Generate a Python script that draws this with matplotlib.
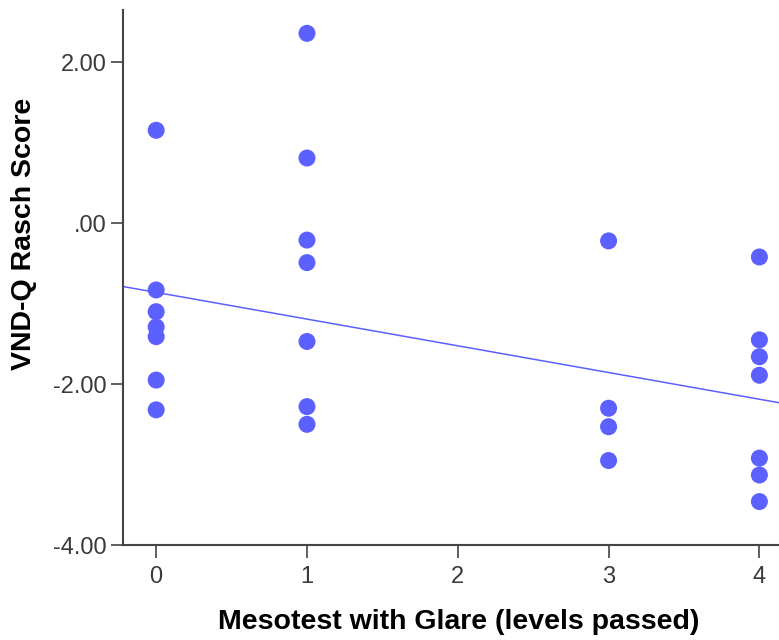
import matplotlib
matplotlib.use("Agg")
import matplotlib.pyplot as plt
import numpy as np

plt.rcParams['font.family'] = ['Liberation Sans', 'DejaVu Sans']

# Data
x_levels = [0]*7 + [1]*7 + [3]*4 + [4]*7
rasch_scores = [1.155, -0.83, -1.10, -1.29, -1.41, -1.95, -2.32,
                2.36, 0.81, -0.21, -0.49, -1.47, -2.28, -2.50,
                -0.22, -2.30, -2.53, -2.95,
                -0.42, -1.45, -1.66, -1.89, -2.92, -3.13, -3.46]
fit_intercept = -0.86
fit_slope = -0.332
x_ticks = [0, 1, 2, 3, 4]
y_ticks = [-4, -2, 0, 2]
y_tick_labels = ["-4.00", "-2.00", ".00", "2.00"]

color = '#5b60ff'

fig = plt.figure(figsize=(7.79, 6.4), dpi=100)
ax = fig.add_axes([123/779, 1-545/640, 1-123/779, (545-10)/640])

ax.scatter(x_levels, rasch_scores, s=150, color=color, edgecolors='none', zorder=3)

xlim = (-0.22, 4.13)
xs = np.array(xlim)
ax.plot(xs, fit_intercept + fit_slope*xs, color=color, lw=1.1, zorder=2)

ax.set_xlim(*xlim)
ax.set_ylim(-4, 2.65)
ax.set_xticks(x_ticks)
ax.set_yticks(y_ticks)
ax.set_yticklabels(y_tick_labels)

for s in ['top', 'right']:
    ax.spines[s].set_visible(False)
for s in ['left', 'bottom']:
    ax.spines[s].set_color('#444444')
    ax.spines[s].set_linewidth(1.5)

ax.tick_params(axis='both', direction='out', length=9, width=1.2, color='#444444',
               labelsize=17, labelcolor='#3a3a3a', pad=3)
ax.tick_params(axis='x', pad=6)

ax.set_xlabel('Mesotest with Glare (levels passed)', fontsize=20.5, fontweight='bold',
              va='center', ha='center')
ax.xaxis.set_label_coords(0.511, (545-622)/535)
ax.set_ylabel('VND-Q Rasch Score', fontsize=20.5, fontweight='bold',
              va='center', ha='center')
ax.yaxis.set_label_coords((24-123)/656, (545-234)/535)

fig.savefig('out.png', dpi=100)
